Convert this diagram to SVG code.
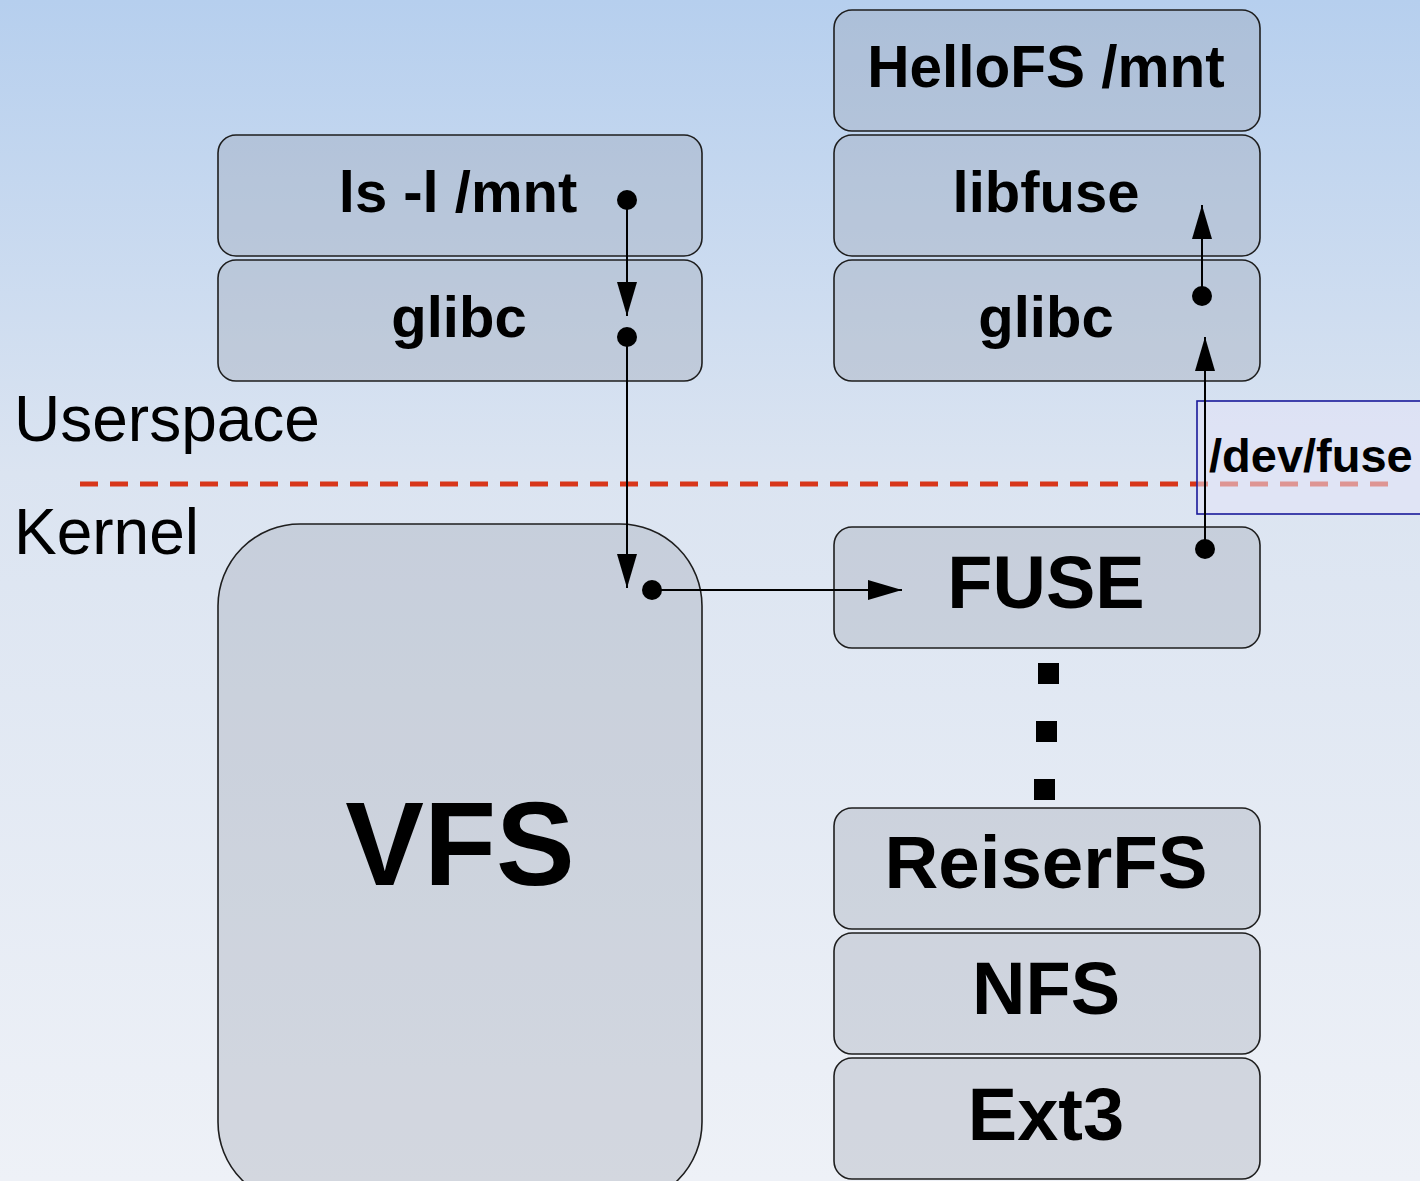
<svg xmlns="http://www.w3.org/2000/svg" width="1420" height="1181" viewBox="0 0 1420 1181">
  <defs>
    <linearGradient id="bg" x1="0" y1="0" x2="0" y2="1">
      <stop offset="0" stop-color="#b6cfee"/>
      <stop offset="0.4" stop-color="#dbe4f1"/>
      <stop offset="1" stop-color="#eef1f7"/>
    </linearGradient>
    <marker id="arrow" viewBox="0 0 34 20" refX="34" refY="10" markerWidth="34" markerHeight="20" markerUnits="userSpaceOnUse" orient="auto">
      <path d="M0,0 L34,10 L0,20 Z" fill="#000"/>
    </marker>
    <marker id="dot" viewBox="0 0 22 22" refX="11" refY="11" markerWidth="22" markerHeight="22" markerUnits="userSpaceOnUse">
      <circle cx="11" cy="11" r="10" fill="#000"/>
    </marker>
  </defs>
  <style>
    .box { fill: rgb(150,156,168); fill-opacity: 0.3; stroke: #1e1e1e; stroke-width: 1.6; }
    .lbl { font-family: "Liberation Sans", Arial, sans-serif; font-weight: bold; fill: #000; text-anchor: middle; }
    .side { font-family: "Liberation Sans", Arial, sans-serif; font-size: 64px; fill: #000; }
    .conn { stroke: #000; stroke-width: 2; fill: none; }
  </style>

  <rect width="1420" height="1181" fill="url(#bg)"/>

  <!-- userspace / kernel boundary -->
  <line x1="80" y1="484" x2="1400" y2="484" stroke="#d8361a" stroke-width="5" stroke-dasharray="18 12"/>
  <text class="side" x="14" y="441">Userspace</text>
  <text class="side" x="14" y="554">Kernel</text>

  <!-- left stack -->
  <g id="ls">
    <rect class="box" x="218" y="135" width="484" height="121" rx="18"/>
    <text class="lbl" x="458" y="212" font-size="58">ls -l /mnt</text>
  </g>
  <g id="glibc-left">
    <rect class="box" x="218" y="260" width="484" height="121" rx="18"/>
    <text class="lbl" x="459" y="337" font-size="58">glibc</text>
  </g>
  <g id="vfs">
    <rect class="box" x="218" y="524" width="484" height="680" rx="82"/>
    <text class="lbl" x="460" y="885" font-size="118">VFS</text>
  </g>

  <!-- right stack -->
  <g id="hellofs">
    <rect class="box" x="834" y="10" width="426" height="121" rx="18"/>
    <text class="lbl" x="1046" y="87" font-size="58.5">HelloFS /mnt</text>
  </g>
  <g id="libfuse">
    <rect class="box" x="834" y="135" width="426" height="121" rx="18"/>
    <text class="lbl" x="1046" y="212" font-size="58">libfuse</text>
  </g>
  <g id="glibc-right">
    <rect class="box" x="834" y="260" width="426" height="121" rx="18"/>
    <text class="lbl" x="1046" y="337" font-size="58">glibc</text>
  </g>
  <g id="fuse">
    <rect class="box" x="834" y="527" width="426" height="121" rx="18"/>
    <text class="lbl" x="1046" y="608" font-size="74">FUSE</text>
  </g>
  <g id="reiserfs">
    <rect class="box" x="834" y="808" width="426" height="121" rx="18"/>
    <text class="lbl" x="1046" y="888" font-size="74.5">ReiserFS</text>
  </g>
  <g id="nfs">
    <rect class="box" x="834" y="933" width="426" height="121" rx="18"/>
    <text class="lbl" x="1046" y="1014" font-size="74">NFS</text>
  </g>
  <g id="ext3">
    <rect class="box" x="834" y="1058" width="426" height="121" rx="18"/>
    <text class="lbl" x="1046" y="1140" font-size="74">Ext3</text>
  </g>

  <!-- device node overlay -->
  <g id="devfuse">
    <rect x="1197" y="401" width="240" height="113" fill="#e4e4f8" fill-opacity="0.55" stroke="#1a1a9a" stroke-width="1.6"/>
    <text x="1209" y="472" font-family="Liberation Sans, Arial, sans-serif" font-weight="bold" font-size="47" fill="#000">/dev/fuse</text>
  </g>

  <!-- connectors -->
  <g id="connectors">
    <line class="conn" x1="627" y1="200" x2="627" y2="316" marker-start="url(#dot)" marker-end="url(#arrow)"/>
    <line class="conn" x1="627" y1="337" x2="627" y2="588" marker-start="url(#dot)" marker-end="url(#arrow)"/>
    <line class="conn" x1="652" y1="590" x2="902" y2="590" marker-start="url(#dot)" marker-end="url(#arrow)"/>
    <line class="conn" x1="1205" y1="549" x2="1205" y2="337" marker-start="url(#dot)" marker-end="url(#arrow)"/>
    <line class="conn" x1="1202" y1="296" x2="1202" y2="205" marker-start="url(#dot)" marker-end="url(#arrow)"/>
    <!-- FUSE to on-disk filesystems -->
    <rect x="1038" y="663" width="21" height="21" fill="#000"/>
    <rect x="1036" y="721" width="21" height="21" fill="#000"/>
    <rect x="1034" y="779" width="21" height="21" fill="#000"/>
  </g>
</svg>
